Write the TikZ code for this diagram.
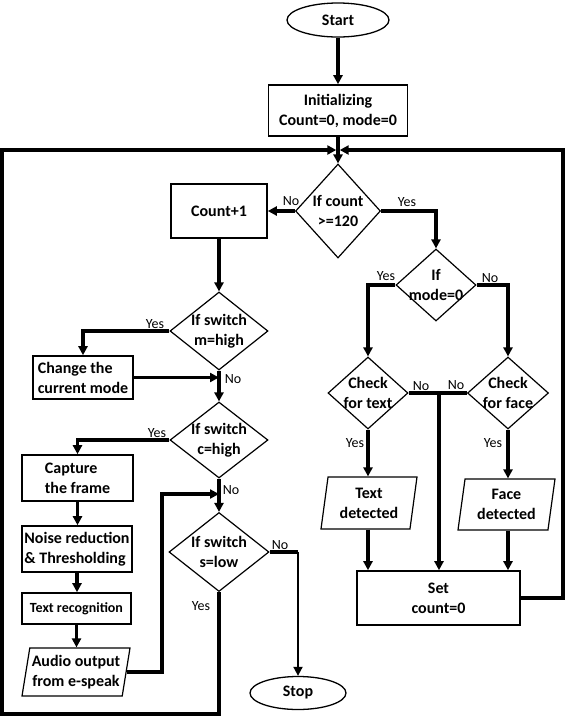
\documentclass[tikz,border=0pt]{standalone}
\usepackage{fontspec}
\setmainfont{Carlito}
\usetikzlibrary{shapes.geometric,arrows.meta}
\begin{document}
\begin{tikzpicture}[x=1pt,y=-1pt,
  base/.style={font=\bfseries\fontsize{16}{20}\selectfont, align=center, inner sep=0pt},
  box/.style={base, draw, rectangle, line width=1.6pt},
  dia/.style={diamond, draw, line width=1.2pt, inner sep=0pt},
  para/.style={base, trapezium, draw, line width=1.2pt, trapezium left angle=77, trapezium right angle=103, trapezium stretches body},
  oval/.style={base, ellipse, draw, line width=1.3pt},
  wire/.style={line width=3.5pt},
  conn/.style={line width=3.5pt, -{Triangle[length=9pt,width=9pt]}},
  thinconn/.style={line width=1.8pt, -{Triangle[length=9pt,width=9pt]}},
  lbl/.style={font=\fontsize{14}{16}\selectfont, inner sep=0pt}]
\useasboundingbox (0,0) rectangle (566,716);
\fill[white] (0,0) rectangle (566,716);

% nodes
\node[oval, minimum width=102pt, minimum height=34pt] (start) at (338,20) {Start};
\node[box, minimum width=139pt, minimum height=51pt] (init) at (338,110.5) {Initializing\\Count=0, mode=0};
\coordinate (jn) at (338,150);
\coordinate (jl) at (336.3,150);
\coordinate (jr) at (339.7,150);
\node[dia, minimum width=85pt, minimum height=94pt, label={[base]center:{If count\\>=120}}] (count) at (338,211) {};
\node[box, minimum width=96pt, minimum height=54pt] (cnt) at (219,211) {Count+1};
\node[dia, minimum width=98pt, minimum height=78pt, label={[base]center:{If switch\\m=high}}] (md) at (219,331) {};
\node[box, align=left, minimum width=100pt, minimum height=43pt] (chg) at (83,377.5) {Change the\\current mode};
\node[dia, minimum width=98pt, minimum height=76pt, label={[base]center:{If switch\\c=high}}] (cd) at (219,440) {};
\node[box, align=left, minimum width=111pt, minimum height=46pt] (cap) at (77.5,478) {Capture\\the frame};
\node[box, align=left, minimum width=110pt, minimum height=46pt] (noise) at (77,549) {Noise reduction\\\& Thresholding};
\node[box, font=\bfseries\fontsize{14}{16}\selectfont, minimum width=109pt, minimum height=31pt] (trec) at (76.5,608.5) {Text recognition};
\node[para, minimum width=108pt, minimum height=48pt] (audio) at (76,672) {Audio output\\from e-speak};
\node[dia, minimum width=100pt, minimum height=79pt, label={[base]center:{If switch\\s=low}}] (sd) at (219,552) {};
\node[oval, minimum width=96pt, minimum height=33pt] (stop) at (298,693) {Stop};
\node[dia, minimum width=80pt, minimum height=72pt, label={[base]center:{If\\mode=0}}] (mode) at (436,285) {};
\node[dia, minimum width=80pt, minimum height=72pt, label={[base]center:{Check\\for text}}] (ct) at (368,393) {};
\node[dia, minimum width=81pt, minimum height=72pt, label={[base]center:{Check\\for face}}] (cf) at (508,393) {};
\node[para, minimum width=96pt, minimum height=52pt] (td) at (369,503) {Text\\detected};
\node[para, minimum width=97pt, minimum height=51pt] (fd) at (506.5,504.5) {Face\\detected};
\node[box, minimum width=163pt, minimum height=54pt] (set) at (438.5,598) {Set\\count=0};

% connectors
\draw[conn] (start) -- (init);
\draw[conn] (init) -- (count);
\draw[conn] (count) -- (cnt);
\draw[conn] (count.east) -| (mode.north);
\draw[conn] (cnt) -- (md);
\draw[conn] (md.west) -| (chg.north);
\draw[conn] (chg.east) -- (chg.east -| md.south);
\draw[conn] (md) -- (cd);
\draw[conn] (cd.west) -| (cap.north);
\draw[conn] (cap.south) -- (cap.south |- noise.north);
\draw[conn] (noise.south) -- (noise.south |- trec.north);
\draw[conn] (trec.south) -- (trec.south |- audio.north);
\coordinate (aj) at (162,494);
\draw[conn] (audio.east) -| (aj) -- (aj -| cd.south);
\draw[conn] (cd) -- (sd);
\coordinate (sj) at (298,552);
\draw[wire] (sd.east) -- (sj);
\draw[thinconn] (sj) -- (stop);
\coordinate (lb) at (2,714);
\draw[conn] (sd.south) |- (lb) |- (jl);
\coordinate (rt) at (563,150);
\draw[conn] (set.east) -| (rt) -- (jr);
\draw[conn] (mode.west) -| (ct.north);
\draw[conn] (mode.east) -| (cf.north);
\draw[conn] (ct.south) -- (ct.south |- td.north);
\draw[conn] (cf.south) -- (cf.south |- fd.north);
\coordinate (jm) at (439,393);
\draw[wire] (ct.east) -- (jm);
\draw[wire] (cf.west) -- (jm);
\draw[conn] (jm) -- (jm |- set.north);
\draw[conn] (ct.south |- td.south) -- (ct.south |- set.north);
\draw[conn] (cf.south |- fd.south) -- (cf.south |- set.north);

% labels
\node[lbl] (l1) at (291,201) {No};
\node[lbl] (l2) at (407,202) {Yes};
\node[lbl] (l3) at (386,276) {Yes};
\node[lbl] (l4) at (490,278) {No};
\node[lbl] (l5) at (421,386) {No};
\node[lbl] (l6) at (456,385) {No};
\node[lbl] (l7) at (355,443) {Yes};
\node[lbl] (l8) at (493,443) {Yes};
\node[lbl] (l9) at (155,324) {Yes};
\node[lbl] (l10) at (233,379) {No};
\node[lbl] (l11) at (157,433) {Yes};
\node[lbl] (l12) at (231,490) {No};
\node[lbl] (l13) at (280,545) {No};
\node[lbl] (l14) at (201,606) {Yes};
\end{tikzpicture}
\end{document}
